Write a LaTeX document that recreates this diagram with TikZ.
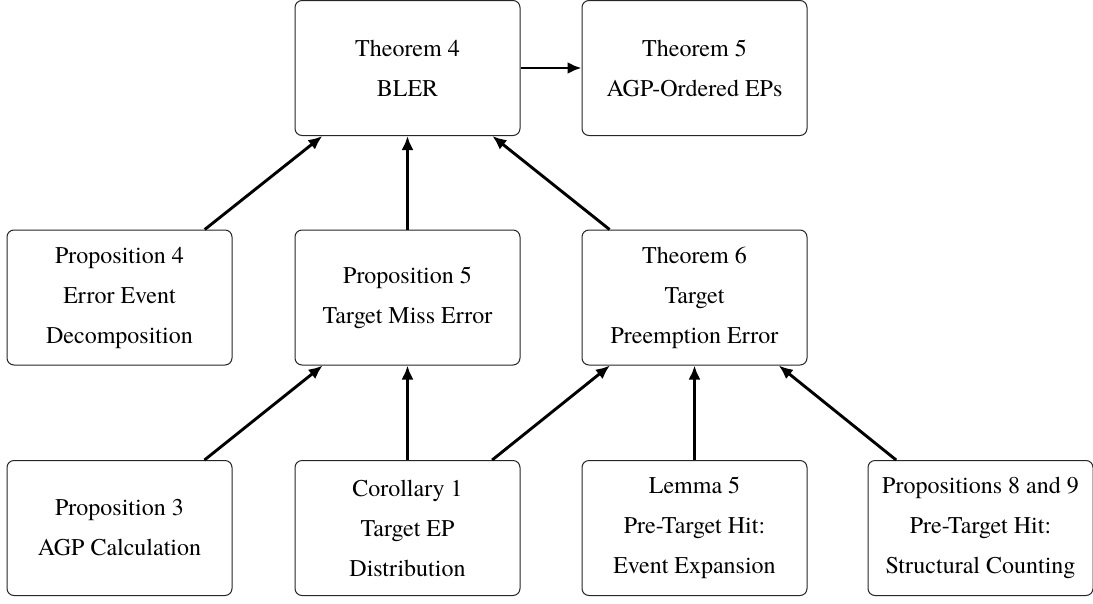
\documentclass[tikz,border=0pt]{standalone}
\usepackage{fontspec}
\setmainfont{TeX Gyre Termes}
\usetikzlibrary{arrows.meta}
\begin{document}
\begin{tikzpicture}[x=1pt,y=-1pt,
  box/.style={draw=black!85, line width=1pt, rounded corners=7pt, fill=white,
    minimum width=225pt, minimum height=135pt, align=center, inner sep=0pt,
    font=\fontsize{24}{40}\selectfont},
  arr/.style={-{Latex[length=14pt,width=12pt]}, line width=2.9pt}]
\useasboundingbox (0,0) rectangle (1093,603);
\node[box] (t4) at (407.5,68) {Theorem 4\\BLER};
\node[box] (t5) at (694.5,68) {Theorem 5\\AGP-Ordered EPs};
\node[box] (p4) at (119.5,297.5) {Proposition 4\\Error Event\\Decomposition};
\node[box] (p5) at (407.5,297.5) {Proposition 5\\Target Miss Error};
\node[box] (t6) at (694.5,297.5) {Theorem 6\\Target\\Preemption Error};
\node[box] (p3) at (119.5,528) {Proposition 3\\AGP Calculation};
\node[box] (c1) at (407.5,528) {Corollary 1\\Target EP\\Distribution};
\node[box] (l5) at (694.5,528) {Lemma 5\\Pre-Target Hit:\\Event Expansion};
\node[box] (p89) at (980.5,528) {Propositions 8 and 9\\Pre-Target Hit:\\Structural Counting};
\draw[arr] (t4) -- (t5);
\draw[arr] (p4) -- (t4);
\draw[arr] (p5) -- (t4);
\draw[arr] (t6) -- (t4);
\draw[arr] (p3) -- (p5);
\draw[arr] (c1) -- (p5);
\draw[arr] (c1) -- (t6);
\draw[arr] (l5) -- (t6);
\draw[arr] (p89) -- (t6);
\end{tikzpicture}
\end{document}
